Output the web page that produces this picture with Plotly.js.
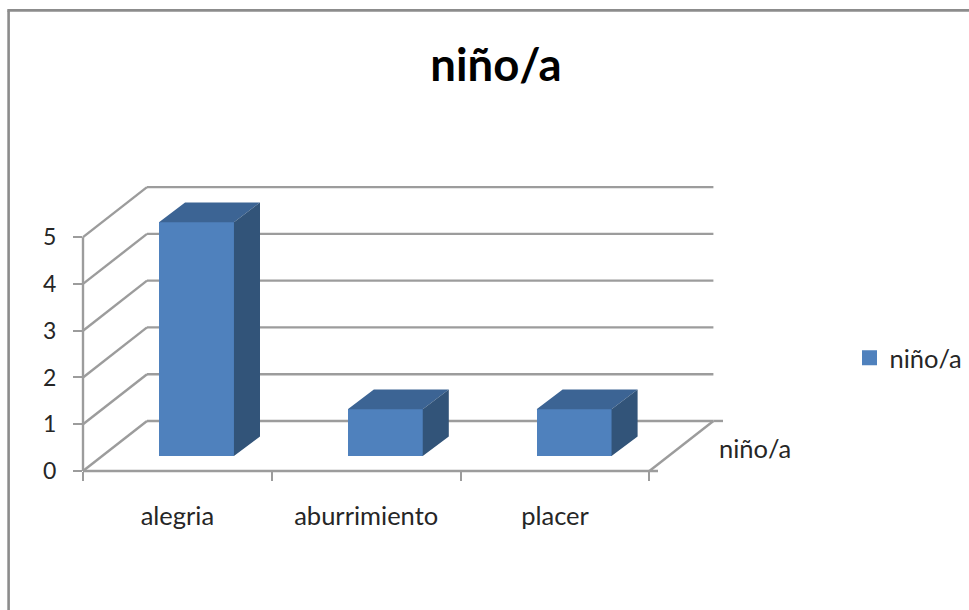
<!DOCTYPE html>
<html><head><meta charset="utf-8">
<script src="https://cdn.plot.ly/plotly-3.0.1.min.js"></script>
<style>html,body{margin:0;padding:0;background:#fff}</style></head>
<body><div id="chart" style="width:969px;height:610px"></div>
<script>
const categories = ["alegria", "aburrimiento", "placer"];
const seriesName = "niño/a";
const values = [5, 1, 1];
const yTicks = [0, 1, 2, 3, 4, 5];

const W = 969, H = 610;
const unitX = 188.8, unitY = 46.75, originX = 83, originY = 470.7;
// the plot area runs past the front plane so that the depth faces and the legend stay inside it
const xRange = [0, (W - originX) / unitX], yRange = [0, 6.5];
const M = {l: originX, r: 0, t: originY - yRange[1] * unitY, b: H - originY};
const xMax = categories.length, yMax = yTicks[yTicks.length - 1];
const FONT = "Lato, Carlito, 'Open Sans', sans-serif";
const GRID = "#9c9c9c";
// oblique depth of the floor and of a bar, in axis units
const wallDx = 0.339, wallDy = 1.07;
const barLeft = 0.4025, barWidth = 0.397, barBase = 0.32, barDx = 0.138, barDy = 0.42;

const px = p => (p - M.l) / (W - M.l - M.r);
const py = p => (H - M.b - p) / (H - M.t - M.b);
const ux = u => u / xRange[1], vy = v => v / yRange[1];
const seg = (x0, y0, x1, y1, color, width, layer) => ({type: "line", xref: "paper", yref: "paper",
  x0, y0, x1, y1, layer: layer || "below", line: {color, width}});

const LW = 2.4;
const shapes = [];
yTicks.forEach(k => {
  shapes.push(seg(ux(0), vy(k), ux(wallDx), vy(k + wallDy), GRID, LW));
  shapes.push(seg(ux(wallDx), vy(k + wallDy), ux(xMax + wallDx), vy(k + wallDy), GRID, LW));
});
shapes.push(seg(ux(xMax), vy(0), ux(xMax + wallDx), vy(wallDy), GRID, LW));
shapes.push(seg(ux(xMax + wallDx), vy(wallDy), px(723), vy(wallDy), GRID, LW));
shapes.push(seg(ux(0), vy(0), px(658), vy(0), GRID, LW));
shapes.push(seg(ux(0), vy(0), ux(0), vy(yMax), GRID, LW));
shapes.push(seg(px(8.6), py(10.3), px(8.6), py(612), "#8c8c8c", 2.6));
shapes.push(seg(px(7.3), py(10.3), px(971), py(10.3), "#8c8c8c", 2.6));

const topX = [], topY = [], sideX = [], sideY = [];
values.forEach((v, i) => {
  const l = i + barLeft, r = l + barWidth, b = barBase, t = barBase + v;
  topX.push(l, r, r + barDx, l + barDx, l, null);
  topY.push(t, t, t + barDy, t + barDy, t, null);
  sideX.push(r, r + barDx, r + barDx, r, r, null);
  sideY.push(b, b + barDy, t + barDy, t, b, null);
});

const traces = [
  {type: "bar", name: seriesName, x: categories.map((c, i) => i + barLeft + barWidth / 2), y: values,
   base: barBase, width: barWidth, marker: {color: "#4f81bd", line: {width: 0}},
   cliponaxis: false, hoverinfo: "y", showlegend: false},
  {type: "bar", name: seriesName, x: [null], y: [null], marker: {color: "#4f81bd", line: {width: 3, color: "#4f81bd"}},
   hoverinfo: "skip", showlegend: true},
  {type: "scatter", mode: "lines", x: topX, y: topY, fill: "toself", fillcolor: "#3c6494",
   line: {width: 0, color: "#3c6494"}, cliponaxis: false, hoverinfo: "skip", showlegend: false},
  {type: "scatter", mode: "lines", x: sideX, y: sideY, fill: "toself", fillcolor: "#325479",
   line: {width: 0, color: "#325479"}, cliponaxis: false, hoverinfo: "skip", showlegend: false}
];

const layout = {
  width: W, height: H, margin: {l: M.l, r: M.r, t: M.t, b: M.b, pad: 0},
  paper_bgcolor: "#fff", plot_bgcolor: "rgba(0,0,0,0)",
  font: {family: FONT, size: 25, color: "#262626"},
  title: {text: "<b>" + seriesName + "</b>", font: {family: FONT, size: 45.5, color: "#000"},
    x: 496 / W, xref: "container", xanchor: "center", y: 1 - 65 / H, yref: "container", yanchor: "middle"},
  xaxis: {type: "linear", range: xRange, fixedrange: true, showgrid: false, zeroline: false, showline: false,
    tickmode: "array", tickvals: categories.map((c, i) => i + 0.5), ticktext: categories,
    ticks: "", ticklabelstandoff: 27, tickfont: {family: FONT, size: 25.5, color: "#262626"},
    minor: {tickmode: "array", tickvals: categories.map((c, i) => i).concat([xMax]), ticks: "outside",
            ticklen: 9, tickwidth: LW, tickcolor: GRID, showgrid: false}},
  yaxis: {range: yRange, fixedrange: true, showgrid: false, zeroline: false, showline: false,
    tickmode: "array", tickvals: yTicks, ticks: "outside", ticklen: 9, tickwidth: LW, tickcolor: GRID,
    ticklabelstandoff: 12, tickfont: {family: FONT, size: 23, color: "#262626"}},
  legend: {x: px(849.5), xanchor: "left", y: py(358), yanchor: "middle", bgcolor: "rgba(0,0,0,0)",
    font: {family: FONT, size: 25.5, color: "#262626"}, itemwidth: 30,
    entrywidth: 40, entrywidthmode: "pixels"},
  annotations: [{xref: "x", yref: "y", x: xMax + 0.358, y: 0.486, xanchor: "left", yanchor: "middle",
    text: seriesName, showarrow: false, font: {family: FONT, size: 25.5, color: "#262626"}}],
  shapes: shapes,
  showlegend: true, bargap: 0, hovermode: "closest"
};
Plotly.newPlot("chart", traces, layout, {displayModeBar: false, responsive: false});
</script></body></html>
